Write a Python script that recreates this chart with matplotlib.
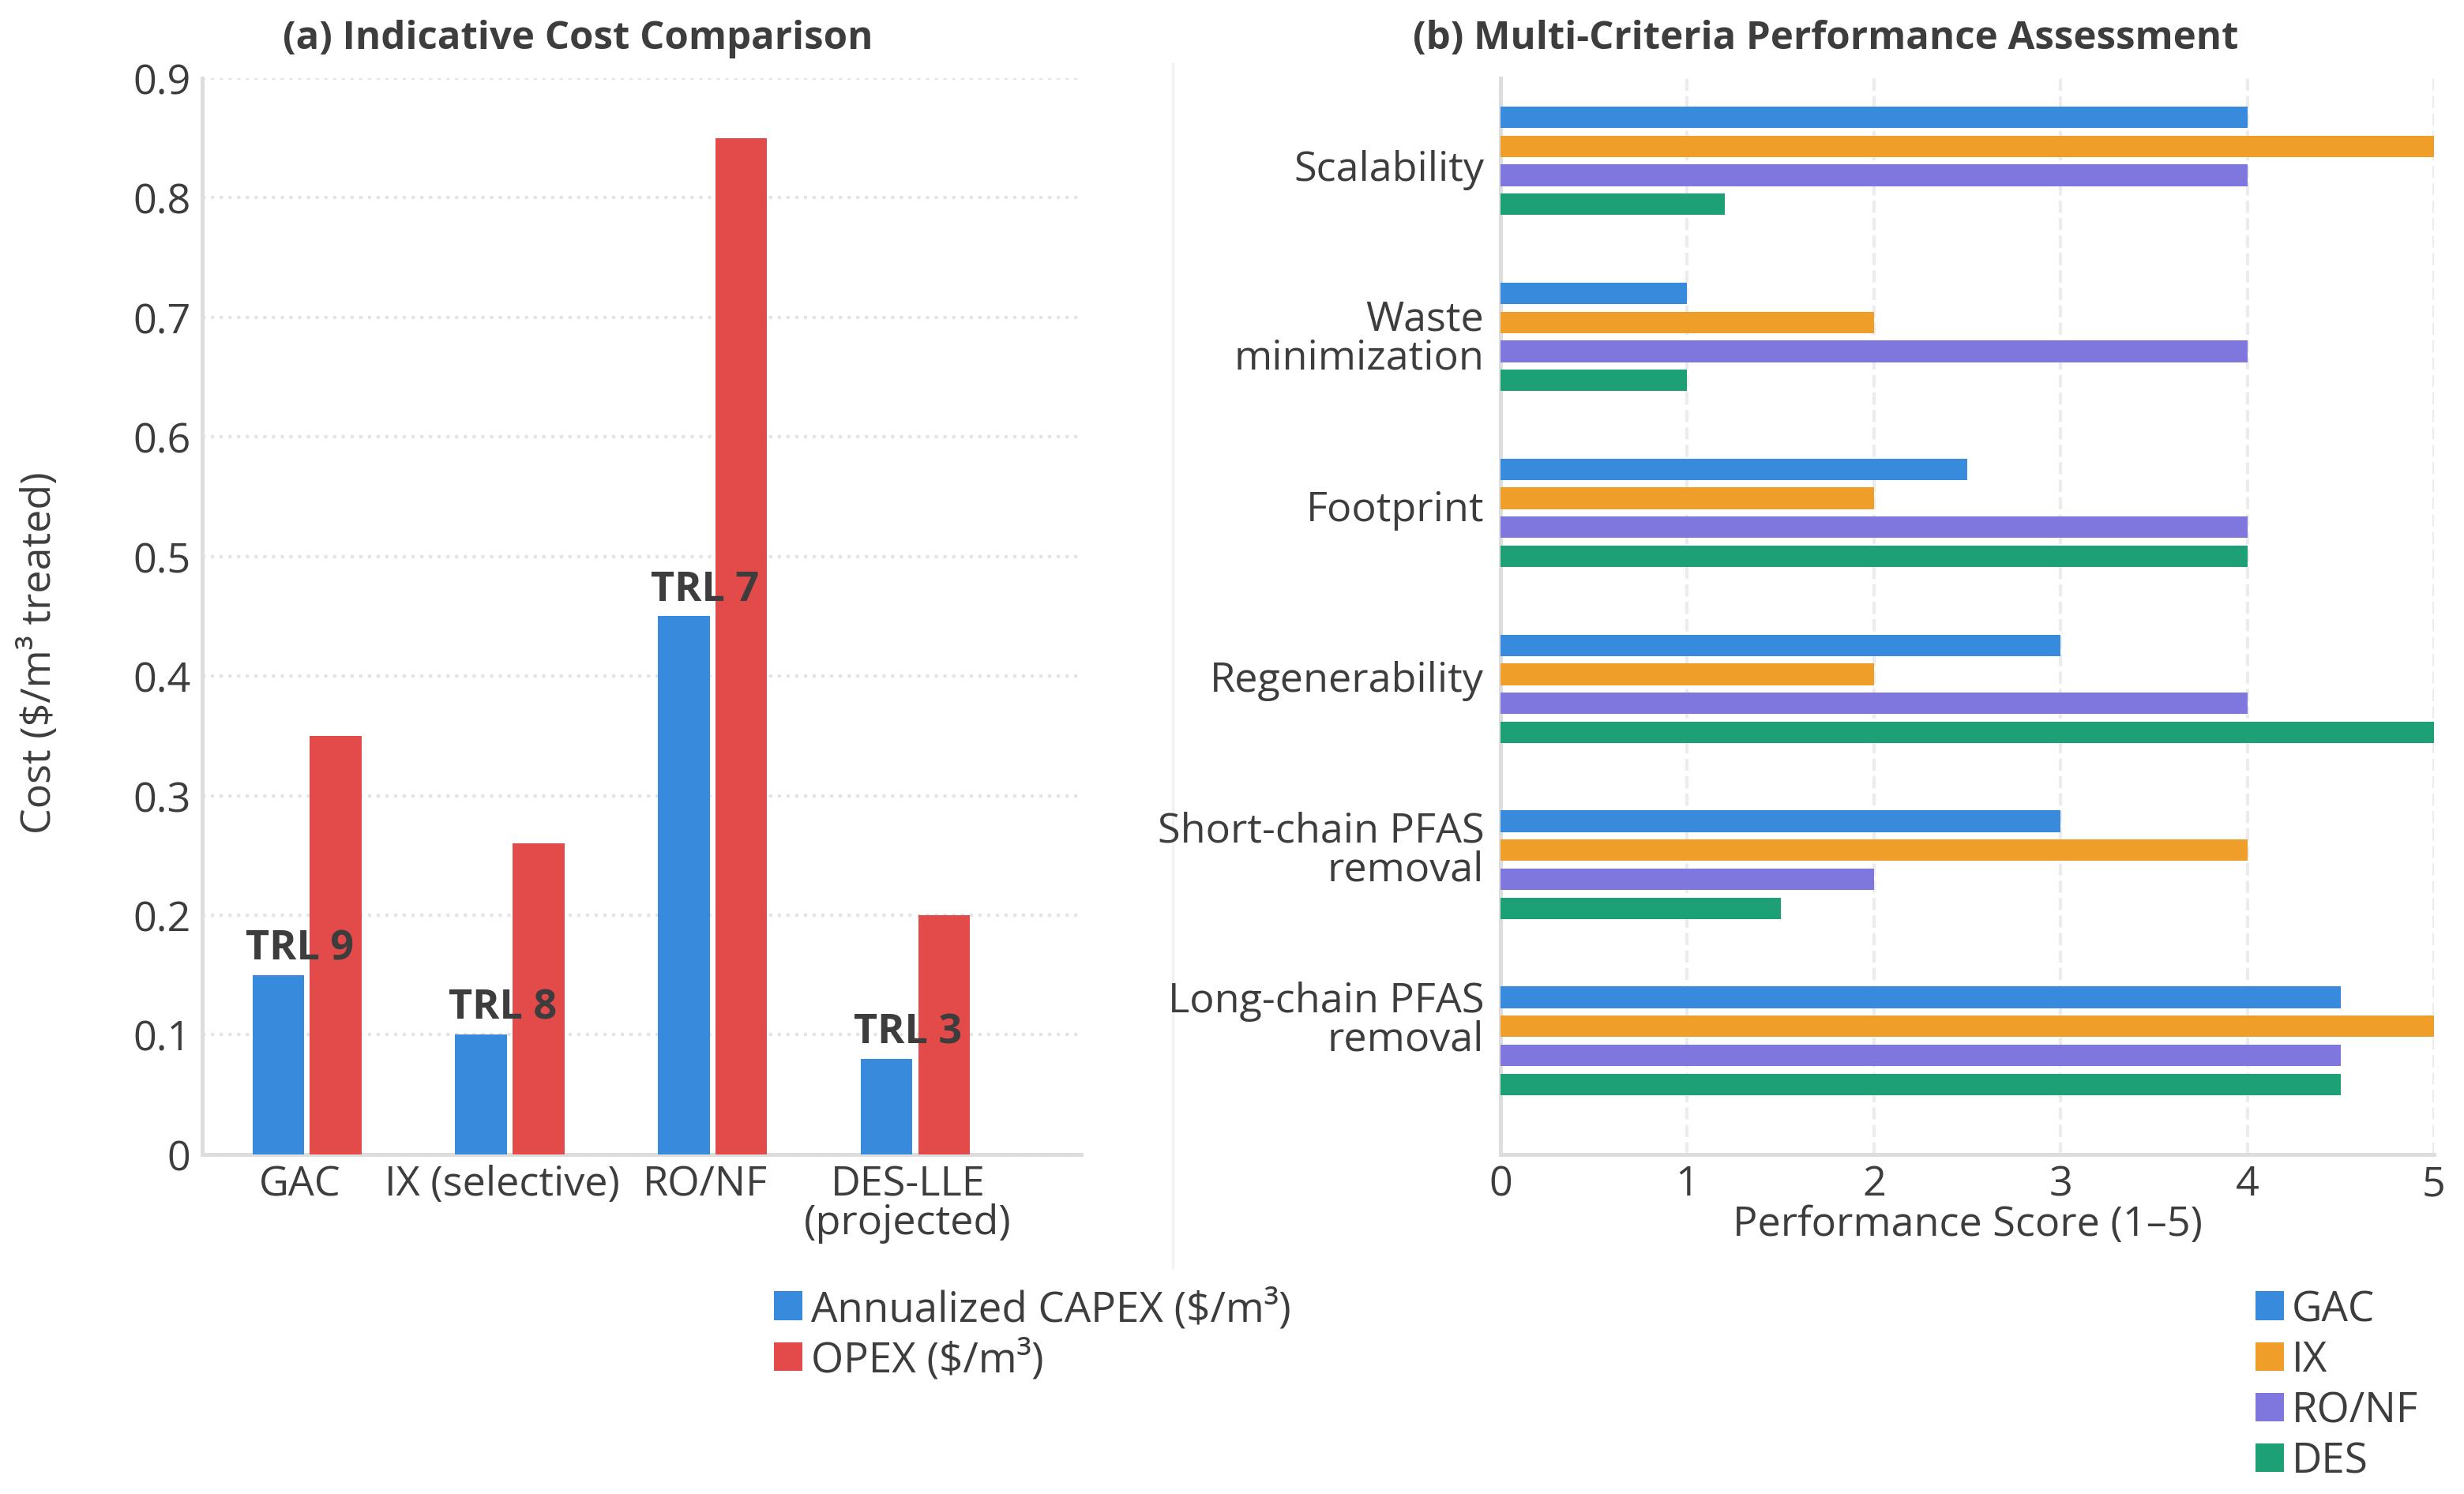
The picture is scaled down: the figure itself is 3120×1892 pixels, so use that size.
import numpy as np
import matplotlib.pyplot as plt
from matplotlib.lines import Line2D
from matplotlib.ticker import FuncFormatter

plt.rcParams['font.family'] = ['Open Sans', 'DejaVu Sans']

# COST DATA
technologies = ["GAC", "IX (selective)", "RO/NF", "DES-LLE\n(projected)"]
capex = [0.15, 0.10, 0.45, 0.08]
opex = [0.35, 0.26, 0.85, 0.20]
trl_labels = ["TRL 9", "TRL 8", "TRL 7", "TRL 3"]

# PERFORMANCE DATA (bottom to top)
criteria = ["Long-chain PFAS\nremoval", "Short-chain PFAS\nremoval", "Regenerability",
            "Footprint", "Waste\nminimization", "Scalability"]
series_names = ["GAC", "IX", "RO/NF", "DES"]
gac_scores = [4.5, 3, 3, 2.5, 1, 4]
ix_scores = [5, 4, 2, 2, 2, 5]
ronf_scores = [4.5, 2, 4, 4, 4, 4]
des_scores = [4.5, 1.5, 5, 4, 1, 1.2]

BLUE = "#388ADD"
RED = "#E34A4A"
ORANGE = "#EF9F29"
PURPLE = "#7F77DE"
GREEN = "#1EA076"
TEXT = "#3d3d3d"
SPINE = "#dddddd"

fig = plt.figure(figsize=(10.4, 6.31), dpi=300)

# PANEL SEPARATOR (behind everything)
fig.add_artist(Line2D([0.476, 0.476], [0.1516, 0.9567], transform=fig.transFigure,
                      color="#f2f2f2", linewidth=0.8, zorder=-5))

# (a) COST COMPARISON
ax1 = fig.add_axes([0.0821, 0.2272, 0.3567, 0.7200])
ax1.patch.set_alpha(0)
x = np.arange(len(technologies))
ax1.bar(x - 0.105, capex, 0.255, color=BLUE, label="Annualized CAPEX ($/m³)", zorder=3)
ax1.bar(x + 0.178, opex, 0.255, color=RED, label="OPEX ($/m³)", zorder=3)
for xi, c, t in zip(x, capex, trl_labels):
    ax1.text(xi, c + 0.005, t, ha="center", va="bottom", fontsize=12.5,
             fontweight="bold", color=TEXT, zorder=4)

ax1.set_xlim(-0.48, 3.855)
ax1.set_ylim(0, 0.9)
ax1.set_xticks(x)
ax1.set_xticklabels(technologies, fontsize=12.5, color=TEXT, linespacing=0.95)
ax1.set_yticks(np.arange(0, 0.91, 0.1))
ax1.yaxis.set_major_formatter(FuncFormatter(lambda v, p: "{:g}".format(round(v, 1))))
ax1.tick_params(axis="both", length=0, labelsize=12.5, labelcolor=TEXT)
ax1.tick_params(axis="x", pad=3)
ax1.set_ylabel("Cost ($/m³ treated)", fontsize=12.5, color=TEXT)
ax1.yaxis.set_label_coords(-0.162, 0.467)
ax1.yaxis.grid(True, linestyle=":", color="#e4e4e4", linewidth=1.0)
ax1.set_axisbelow(True)
for s in ["top", "right"]:
    ax1.spines[s].set_visible(False)
for s in ["left", "bottom"]:
    ax1.spines[s].set_color(SPINE)
    ax1.spines[s].set_linewidth(1.2)

fig.text(0.2345, 0.967, "(a) Indicative Cost Comparison", ha="center", va="baseline",
         fontsize=11.8, fontweight="bold", color=TEXT)
fig.legend(*ax1.get_legend_handles_labels(), loc="upper left",
           bbox_to_anchor=(0.3057, 0.1515), frameon=False, fontsize=12.7,
           handlelength=0.68, handleheight=0.68, handletextpad=0.2,
           labelspacing=0.2, borderpad=0, labelcolor=TEXT)

# (b) MULTI-CRITERIA ASSESSMENT
ax2 = fig.add_axes([0.6090, 0.2272, 0.3788, 0.7200])
ax2.patch.set_alpha(0)
y = np.arange(len(criteria))
all_scores = [gac_scores, ix_scores, ronf_scores, des_scores]
colors = [BLUE, ORANGE, PURPLE, GREEN]
for i, (name, scores, col) in enumerate(zip(series_names, all_scores, colors)):
    ax2.barh(y + (1.5 - i) * 0.165, scores, 0.122, color=col, label=name, zorder=3)

ax2.set_xlim(0, 5)
ax2.set_ylim(-0.645, 5.47)
# category labels sit slightly above the bar groups, as in the original
ax2.set_yticks(y * 0.968 + 0.14)
ax2.set_yticklabels(criteria, fontsize=12.5, color=TEXT, linespacing=0.95)
ax2.set_xticks(range(6))
ax2.tick_params(axis="both", length=0, labelsize=12.5, labelcolor=TEXT)
ax2.tick_params(axis="y", pad=5)
ax2.tick_params(axis="x", pad=3)
ax2.set_xlabel("Performance Score (1–5)", fontsize=12.5, color=TEXT, labelpad=0)
ax2.xaxis.grid(True, linestyle="--", color="#ececec", linewidth=1.0)
ax2.set_axisbelow(True)
for s in ["top", "right"]:
    ax2.spines[s].set_visible(False)
for s in ["left", "bottom"]:
    ax2.spines[s].set_color(SPINE)
    ax2.spines[s].set_linewidth(1.2)

fig.text(0.7410, 0.967, "(b) Multi-Criteria Performance Assessment", ha="center",
         va="baseline", fontsize=11.8, fontweight="bold", color=TEXT)
fig.legend(*ax2.get_legend_handles_labels(), loc="upper left",
           bbox_to_anchor=(0.9068, 0.1515), frameon=False, fontsize=12.7,
           handlelength=0.68, handleheight=0.68, handletextpad=0.2,
           labelspacing=0.2, borderpad=0, labelcolor=TEXT)

fig.savefig("out.png", dpi=300, facecolor="white")
